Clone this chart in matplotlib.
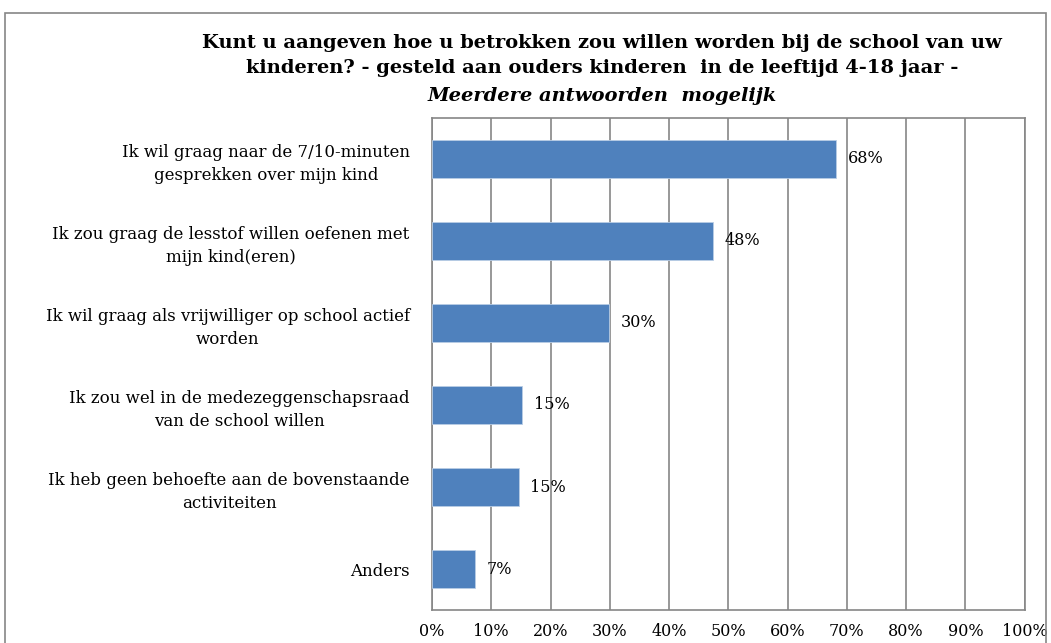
import matplotlib.pyplot as plt
from matplotlib.patches import Rectangle

categories = [
    "Ik wil graag naar de 7/10-minuten\ngesprekken over mijn kind",
    "Ik zou graag de lesstof willen oefenen met\nmijn kind(eren)",
    "Ik wil graag als vrijwilliger op school actief\nworden",
    "Ik zou wel in de medezeggenschapsraad\nvan de school willen",
    "Ik heb geen behoefte aan de bovenstaande\nactiviteiten",
    "Anders",
]
values = [68.2, 47.4, 29.9, 15.2, 14.6, 7.3]
value_labels = ["68%", "48%", "30%", "15%", "15%", "7%"]
ticks = [0, 10, 20, 30, 40, 50, 60, 70, 80, 90, 100]

plt.rcParams['font.family'] = ['DejaVu Serif']

fig = plt.figure(figsize=(10.51, 6.43), dpi=100)
ax = fig.add_axes([0.411, 0.051, 0.564, 0.766])

y = list(range(len(categories)))[::-1]
ax.barh(y, values, height=0.46, color="#4F81BD", edgecolor="#B9CDE5", linewidth=0.6, zorder=3)
for yi, v, lab in zip(y, values, value_labels):
    ax.text(v + 2.0, yi, lab, va="center", ha="left", fontsize=11.5, zorder=4)

ax.set_xlim(0, 100)
ax.set_ylim(-0.5, len(categories) - 0.5)
ax.set_xticks(ticks)
ax.set_xticklabels([f"{t}%" for t in ticks], fontsize=11.5)
ax.set_yticks(y)
ax.set_yticklabels(categories, fontsize=12, multialignment="center", linespacing=1.45)
ax.tick_params(axis="both", length=0)
ax.tick_params(axis="x", pad=9)
ax.tick_params(axis="y", pad=16)
ax.grid(axis="x", color="#868686", linewidth=1.2, zorder=0)
for s in ax.spines.values():
    s.set_color("#868686")
    s.set_linewidth(1.2)

fig.text(0.573, 0.933, "Kunt u aangeven hoe u betrokken zou willen worden bij de school van uw",
         ha="center", va="center", fontsize=14, fontweight="bold")
fig.text(0.573, 0.894, "kinderen? - gesteld aan ouders kinderen  in de leeftijd 4-18 jaar -",
         ha="center", va="center", fontsize=14, fontweight="bold")
fig.text(0.573, 0.850, "Meerdere antwoorden  mogelijk",
         ha="center", va="center", fontsize=14, fontweight="bold", style="italic")

fig.patches.append(Rectangle((0.005, -0.01), 0.99, 0.99, transform=fig.transFigure,
                             fill=False, edgecolor="#868686", linewidth=1.2))

fig.savefig("out.png", dpi=100)
